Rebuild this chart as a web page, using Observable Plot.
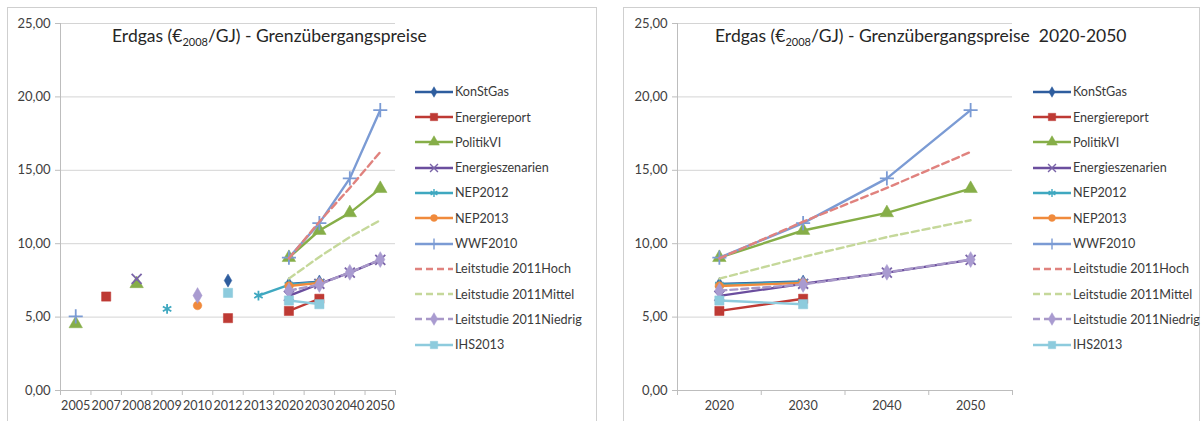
<!DOCTYPE html>
<html><head><meta charset="utf-8">
<script src="https://cdn.jsdelivr.net/npm/d3@7"></script>
<script src="https://cdn.jsdelivr.net/npm/@observablehq/plot@0.6"></script>
<style>
body{margin:0;background:#fff;font-family:Lato,sans-serif}
#root{position:relative;width:1204px;height:421px;overflow:hidden;background:#fff}
.frame{position:absolute;border:1px solid #cfcfcf;box-sizing:border-box}
.chart{position:absolute;top:0}
.title{position:absolute;font-size:17.5px;color:#262626;white-space:nowrap;line-height:20px}
.title sub{font-size:11px;vertical-align:-4px;line-height:0}
.legend{position:absolute;font-size:12.6px;color:#3a3a3a}
.legend .item{position:absolute;left:0;display:flex;align-items:center;white-space:nowrap;height:14px}
.legend svg{display:block;margin-right:2px}
</style></head><body><div id="root"></div><script>
// ---- data ----
const years = ["2005","2007","2008","2009","2010","2012","2013","2020","2030","2040","2050"];
const yTicks = [0, 5, 10, 15, 20, 25];
const seriesNames = ["KonStGas","Energiereport","PolitikVI","Energieszenarien","NEP2012","NEP2013","WWF2010","Leitstudie 2011Hoch","Leitstudie 2011Mittel","Leitstudie 2011Niedrig","IHS2013"];
const konStGas        = [null, null, null, null, null, 7.49, null, 7.25, 7.42, null, null];
const energiereport   = [null, 6.40, null, null, null, 4.93, null, 5.42, 6.25, null, null];
const politikVI       = [4.54, null, 7.27, null, null, null, null, 9.05, 10.90, 12.10, 13.75];
const energieszenarien= [null, null, 7.60, null, null, null, null, 6.45, 7.27, 8.03, 8.90];
const nep2012         = [null, null, null, 5.56, null, null, 6.47, 7.20, 7.38, null, null];
const nep2013         = [null, null, null, null, 5.79, null, null, 7.12, 7.33, null, null];
const wwf2010         = [5.05, null, null, null, null, null, null, 9.05, 11.40, 14.45, 19.10];
const leitHoch        = [null, null, null, null, null, null, null, 9.00, 11.50, 13.80, 16.25];
const leitMittel      = [null, null, null, null, null, null, null, 7.62, 9.10, 10.45, 11.60];
const leitNiedrig     = [null, null, null, null, 6.47, null, null, 6.80, 7.22, 8.05, 8.92];
const ihs2013         = [null, null, null, null, null, 6.65, null, 6.13, 5.88, null, null];
const seriesValues = [konStGas, energiereport, politikVI, energieszenarien, nep2012, nep2013, wwf2010, leitHoch, leitMittel, leitNiedrig, ihs2013];

// ---- styles ----
const seriesColors = ["#2E5D9E","#BE3A34","#86AE48","#6B4E9E","#3FA8C0","#F08A3C","#7B9BD4","#E0827E","#C5D89A","#A898C8","#8DCBDD"];
const markerColors = ["#2E5D9E","#BE3A34","#86AE48","#7A64A8","#3FA8C0","#F08A3C","#7B9BD4",null,null,"#A99BD0","#8DCBDD"];
const seriesSymbols = ["diamond","square","triangle","times","asterisk","circle","plus",null,null,"diamond","square"];
const markerR = [4, 5.2, 5, 4.6, 4.6, 4.3, 4.6, 0, 0, 4.8, 5.2];
const dashed = [false,false,false,false,false,false,false,true,true,true,false];
const strokeSymbols = new Set(["times","asterisk","plus"]);
const fmt = d => d.toFixed(2).replace(".", ",");

const root = document.getElementById("root");
function addFrame(l, t, w, h) {
  const f = document.createElement("div");
  f.className = "frame";
  Object.assign(f.style, {left: l + "px", top: t + "px", width: w + "px", height: h + "px"});
  root.appendChild(f);
}
addFrame(7, 7, 590, 440);
addFrame(623, 7, 577, 440);

function drawPanel(first, left) {
  const cats = years.slice(first);
  const n = cats.length;
  const marks = [
    Plot.gridY(yTicks.filter(d => d > 0), {stroke: "#d4d4d4", strokeOpacity: 1}),
    Plot.ruleX([-0.5], {stroke: "#bdbdbd"}),
    Plot.ruleY([0], {stroke: "#bdbdbd"}),
    Plot.axisY(yTicks, {tickSize: 5, tickPadding: 5, stroke: "#bdbdbd", fill: "#404040", fontSize: 13, tickFormat: fmt}),
    Plot.axisX(d3.range(n), {tickSize: 0, tickPadding: 11, fill: "#404040", fontSize: 12.6, tickFormat: i => cats[i]}),
    Plot.axisX(d3.range(n + 1).map(k => k - 0.5), {tickSize: 5, stroke: "#bdbdbd", tickFormat: () => ""})
  ];
  seriesValues.forEach((vals, s) => {
    const rows = vals.slice(first).map((v, i) => ({i, v}));
    marks.push(Plot.line(rows, {x: "i", y: "v", stroke: seriesColors[s], strokeWidth: 2.4,
      strokeDasharray: dashed[s] ? "7,4" : null}));
    const sym = seriesSymbols[s];
    if (sym) {
      const pts = rows.filter(r => r.v != null);
      const isStroke = strokeSymbols.has(sym);
      marks.push(Plot.dot(pts, {x: "i", y: "v", symbol: () => sym, r: markerR[s],
        fill: isStroke ? "none" : markerColors[s],
        stroke: markerColors[s], strokeWidth: isStroke ? 1.8 : 0.5}));
    }
  });
  const chart = Plot.plot({
    width: 400, height: 421,
    marginLeft: 60, marginRight: 5, marginTop: 23, marginBottom: 31,
    x: {type: "linear", domain: [-0.5, n - 0.5], label: null},
    y: {domain: [0, 25], label: null},
    style: {fontFamily: "Lato, sans-serif", background: "transparent", color: "#404040", overflow: "visible"},
    marks
  });
  chart.classList.add("chart");
  chart.style.left = left + "px";
  root.appendChild(chart);
}
drawPanel(0, 0);
drawPanel(7, 617);

function addTitle(left, extra) {
  const t = document.createElement("div");
  t.className = "title";
  t.style.left = left + "px";
  t.style.top = "26px";
  t.innerHTML = "Erdgas (€<sub>2008</sub>/GJ) - Grenzübergangspreise" + extra;
  root.appendChild(t);
}
addTitle(112, "");
addTitle(715, "&nbsp; 2020-2050");

function symbolPath(sym, r) {
  const map = {diamond: d3.symbolDiamond, square: d3.symbolSquare, triangle: d3.symbolTriangle,
    times: d3.symbolTimes, asterisk: d3.symbolAsterisk, circle: d3.symbolCircle, plus: d3.symbolPlus};
  return d3.symbol(map[sym], r * r * Math.PI)();
}
function addLegend(left) {
  const lg = document.createElement("div");
  lg.className = "legend";
  lg.style.left = left + "px";
  lg.style.top = "0px";
  seriesNames.forEach((name, s) => {
    const it = document.createElement("div");
    it.className = "item";
    it.style.top = (91.7 + 25.3 * s - 7) + "px";
    const sym = seriesSymbols[s];
    let mk = "";
    if (sym) {
      const isStroke = strokeSymbols.has(sym);
      mk = `<path transform="translate(19,7)" d="${symbolPath(sym, markerR[s] * 0.8)}" fill="${isStroke ? "none" : markerColors[s]}" stroke="${markerColors[s]}" stroke-width="${isStroke ? 1.4 : 0.5}"/>`;
    }
    it.innerHTML = `<svg width="38" height="14"><line x1="0" x2="38" y1="7" y2="7" stroke="${seriesColors[s]}" stroke-width="2.4" ${dashed[s] ? 'stroke-dasharray="7,4"' : ""}/>${mk}</svg><span>${name}</span>`;
    lg.appendChild(it);
  });
  root.appendChild(lg);
}
addLegend(415);
addLegend(1033);
</script></body></html>
